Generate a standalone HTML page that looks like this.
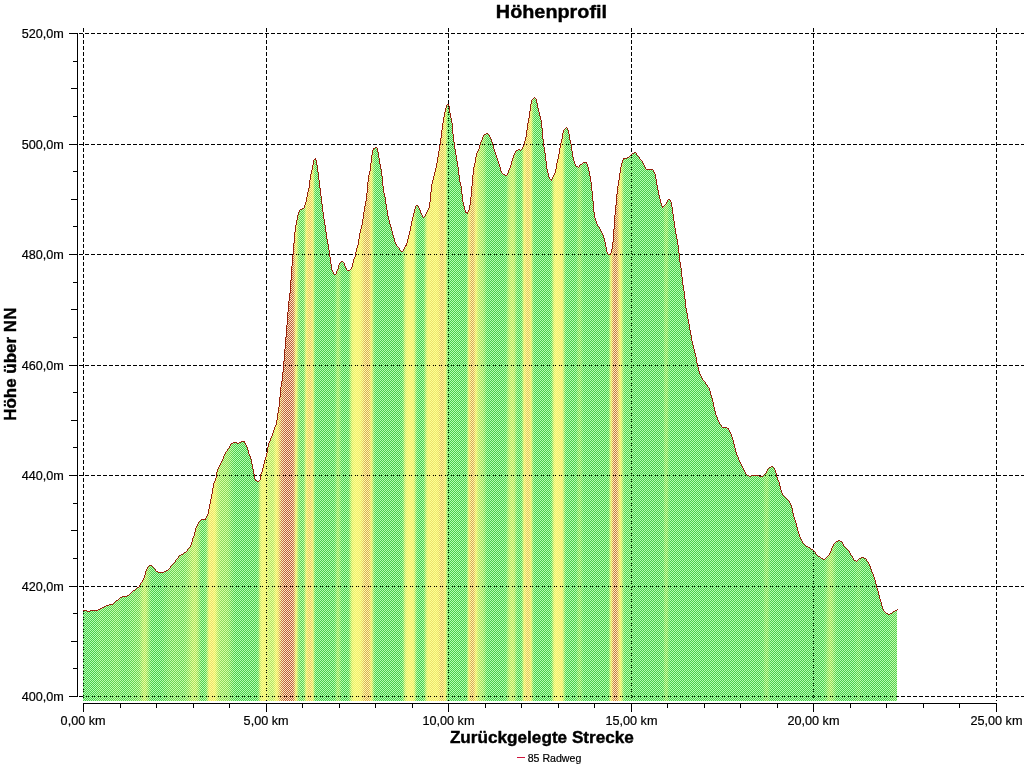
<!DOCTYPE html>
<html lang="de">
<head>
<meta charset="utf-8">
<title>Höhenprofil</title>
<style>
html,body{margin:0;padding:0;background:#fff;width:1024px;height:768px;overflow:hidden}
svg{display:block;position:absolute;left:0;top:0}
text{font-family:"Liberation Sans",sans-serif;fill:#000}
text{stroke:#000;stroke-width:0.2;stroke-linejoin:round}
.t{font-weight:bold;stroke-width:0.4}
</style>
</head>
<body>
<svg width="1024" height="768" viewBox="0 0 1024 768">
<defs>
<pattern id="ck" x="1" y="0" width="2" height="2" patternUnits="userSpaceOnUse"><rect x="0" y="0" width="1" height="1" fill="#fff"/><rect x="1" y="1" width="1" height="1" fill="#fff"/></pattern>
<mask id="ckm" maskUnits="userSpaceOnUse" x="0" y="0" width="1024" height="768"><rect x="0" y="0" width="1024" height="768" fill="url(#ck)"/></mask>
<clipPath id="area"><path d="M83 610H87V611H90V610H98V609H100V608H102V607H104V606H106V605H109V604H113V603H114V602H115V601H116V600H118V599H119V598H120V597H122V596H127V595H129V594H130V593H131V592H132V591H133V590H135V589H136V588H137V587H139V585H140V583H141V582H142V580H143V578H144V575H145V571H146V569H147V567H148V566H149V565H152V566H153V567H154V568H155V569H156V571H158V572H164V571H166V570H168V569H169V568H170V566H171V565H172V564H173V563H174V562H175V560H176V559H177V558H178V556H179V555H181V554H183V553H184V552H186V551H187V549H188V548H189V547H190V545H191V542H192V538H193V536H194V532H195V528H196V526H197V524H198V522H199V521H200V520H201V519H205V518H206V516H207V514H208V509H209V504H210V499H211V494H212V488H213V483H214V481H215V478H216V472H217V469H218V467H219V465H220V463H221V461H222V459H223V456H224V454H225V452H226V451H227V449H228V448H229V446H230V444H231V443H233V442H237V443H239V442H241V441H245V443H246V445H247V447H248V450H249V454H250V456H251V459H252V464H253V469H254V474H255V479H256V480H257V481H259V480H260V474H261V472H262V468H263V464H264V460H265V457H266V453H267V447H268V443H269V441H270V438H271V436H272V433H273V430H274V427H275V425H276V420H277V413H278V407H279V397H280V387H281V381H282V372H283V361H284V349H285V337H286V325H287V312H288V301H289V293H290V280H291V266H292V255H293V243H294V232H295V225H296V220H297V215H298V212H299V210H300V209H302V208H304V205H305V202H306V197H307V192H308V188H309V180H310V174H311V170H312V165H313V160H314V159H315V158H316V160H317V165H318V172H319V180H320V188H321V196H322V204H323V212H324V219H325V225H326V232H327V239H328V244H329V250H330V257H331V264H332V270H333V272H334V274H336V271H337V269H338V265H339V263H340V262H341V261H343V262H344V263H345V266H346V268H347V270H350V269H351V267H352V263H353V259H354V257H355V252H356V248H357V245H358V239H359V233H360V229H361V225H362V219H363V212H364V206H365V201H366V193H367V182H368V175H369V171H370V163H371V155H372V150H373V148H375V147H377V148H378V152H379V158H380V164H381V169H382V176H383V186H384V193H385V197H386V204H387V210H388V216H389V220H390V224H391V227H392V231H393V235H394V238H395V242H396V244H397V246H398V247H399V248H400V250H401V251H403V249H404V247H405V245H406V243H407V239H408V235H409V231H410V226H411V221H412V217H413V213H414V209H415V206H416V205H418V206H419V208H420V210H421V213H422V215H423V217H424V216H425V214H426V212H427V210H428V208H429V202H430V192H431V184H432V180H433V176H434V172H435V168H436V163H437V157H438V151H439V145H440V138H441V130H442V123H443V117H444V112H445V108H446V105H447V104H449V106H450V113H451V118H452V123H453V134H454V142H455V149H456V155H457V161H458V167H459V175H460V182H461V186H462V194H463V202H464V206H465V210H466V212H468V210H469V205H470V197H471V186H472V175H473V167H474V163H475V157H476V153H477V151H478V149H479V145H480V142H481V140H482V137H483V135H484V134H486V133H488V134H489V135H490V137H491V139H492V142H493V145H494V149H495V152H496V155H497V158H498V161H499V164H500V167H501V171H502V173H503V174H505V175H507V173H508V170H509V168H510V165H511V161H512V158H513V155H514V153H515V151H516V150H518V149H520V150H521V149H522V147H523V145H524V141H525V137H526V130H527V123H528V118H529V111H530V104H531V100H532V99H533V98H534V97H535V98H536V99H537V103H538V108H539V112H540V116H541V120H542V128H543V139H544V147H545V153H546V161H547V169H548V173H549V177H550V179H552V177H553V175H554V173H555V169H556V163H557V159H558V154H559V148H560V143H561V139H562V133H563V130H564V129H565V128H566V127H567V128H568V130H569V134H570V140H571V144H572V151H573V157H574V161H575V164H576V166H578V167H579V165H580V164H582V163H583V162H587V164H588V167H589V171H590V176H591V182H592V191H593V201H594V212H595V218H596V221H597V224H598V226H599V227H600V229H601V231H602V233H603V235H604V238H605V242H606V247H607V252H608V254H610V253H611V249H612V242H613V229H614V215H615V205H616V194H617V186H618V180H619V173H620V167H621V163H622V160H623V158H627V157H629V156H630V155H631V154H632V153H634V152H636V153H637V155H638V156H639V157H640V159H641V160H642V161H643V163H644V165H645V167H646V169H653V170H654V172H655V174H656V179H657V185H658V190H659V195H660V199H661V203H662V206H664V205H665V204H666V202H667V200H668V199H670V200H671V202H672V207H673V214H674V221H675V228H676V234H677V239H678V245H679V253H680V262H681V268H682V277H683V285H684V291H685V299H686V308H687V313H688V319H689V324H690V330H691V335H692V341H693V345H694V349H695V353H696V357H697V363H698V367H699V371H700V374H701V376H702V378H703V380H704V381H705V382H706V384H707V385H708V387H709V388H710V391H711V395H712V398H713V402H714V407H715V411H716V415H717V417H718V420H719V422H720V424H721V425H722V427H727V428H729V430H730V432H731V434H732V437H733V440H734V444H735V448H736V452H737V455H738V457H739V460H740V462H741V464H742V466H743V468H744V470H745V472H746V474H747V475H749V476H751V475H759V476H763V475H764V474H765V473H766V471H767V469H768V468H769V467H771V466H773V467H774V468H775V470H776V473H777V477H778V480H779V482H780V486H781V490H782V493H783V495H784V496H785V497H786V498H787V499H788V500H789V501H790V503H791V505H792V508H793V513H794V517H795V520H796V523H797V527H798V531H799V534H800V537H801V539H802V541H803V543H804V544H805V545H806V546H808V547H810V548H811V549H813V550H814V551H815V552H816V554H817V555H818V556H820V557H821V558H823V559H825V558H826V557H827V556H828V555H829V553H830V551H831V548H832V546H833V544H834V543H835V542H836V541H838V540H840V541H842V542H843V544H844V546H845V547H846V548H847V549H848V550H849V551H850V553H851V555H852V556H853V558H854V560H856V561H857V560H858V559H859V558H861V557H864V558H866V559H867V561H868V562H869V564H870V566H871V569H872V572H873V574H874V577H875V580H876V584H877V588H878V591H879V595H880V599H881V602H882V606H883V609H884V611H885V612H886V613H888V614H890V613H892V612H893V611H895V610H897V701 H83 Z"/></clipPath>
<linearGradient id="gl" gradientUnits="userSpaceOnUse" x1="83" y1="0" x2="897" y2="0"><stop offset="0.00000" stop-color="#b4ffb4"/><stop offset="0.01474" stop-color="#b5ffb4"/><stop offset="0.02211" stop-color="#beffb0"/><stop offset="0.02948" stop-color="#bbffb1"/><stop offset="0.04054" stop-color="#c3ffae"/><stop offset="0.04300" stop-color="#c2ffae"/><stop offset="0.04791" stop-color="#baffb1"/><stop offset="0.05160" stop-color="#b9ffb2"/><stop offset="0.05528" stop-color="#bcffb1"/><stop offset="0.06757" stop-color="#c7ffac"/><stop offset="0.06880" stop-color="#c9ffab"/><stop offset="0.07002" stop-color="#cfffa9"/><stop offset="0.07248" stop-color="#deffa2"/><stop offset="0.07371" stop-color="#e4ffa0"/><stop offset="0.07494" stop-color="#e9ff9e"/><stop offset="0.07617" stop-color="#e9ff9e"/><stop offset="0.07740" stop-color="#e4ffa0"/><stop offset="0.07862" stop-color="#dcffa3"/><stop offset="0.08231" stop-color="#c0ffaf"/><stop offset="0.08354" stop-color="#b9ffb2"/><stop offset="0.08477" stop-color="#b5ffb4"/><stop offset="0.09459" stop-color="#b4ffb4"/><stop offset="0.09705" stop-color="#b6ffb3"/><stop offset="0.10934" stop-color="#c7ffac"/><stop offset="0.11425" stop-color="#c8ffab"/><stop offset="0.12039" stop-color="#c5ffad"/><stop offset="0.12408" stop-color="#c6ffac"/><stop offset="0.12531" stop-color="#c8ffac"/><stop offset="0.13022" stop-color="#d7ffa5"/><stop offset="0.13391" stop-color="#e4ffa0"/><stop offset="0.13514" stop-color="#e7ff9e"/><stop offset="0.13636" stop-color="#e9ff9e"/><stop offset="0.13759" stop-color="#e9ff9e"/><stop offset="0.13882" stop-color="#e6ff9f"/><stop offset="0.14005" stop-color="#e0ffa2"/><stop offset="0.14128" stop-color="#d8ffa5"/><stop offset="0.14373" stop-color="#c3ffae"/><stop offset="0.14496" stop-color="#bcffb1"/><stop offset="0.14619" stop-color="#b9ffb2"/><stop offset="0.14742" stop-color="#b8ffb3"/><stop offset="0.14865" stop-color="#b9ffb2"/><stop offset="0.14988" stop-color="#bcffb1"/><stop offset="0.15111" stop-color="#c3ffae"/><stop offset="0.15233" stop-color="#d4ffa7"/><stop offset="0.15356" stop-color="#ecff9c"/><stop offset="0.15479" stop-color="#ffff92"/><stop offset="0.15602" stop-color="#ffff91"/><stop offset="0.15725" stop-color="#ffff95"/><stop offset="0.15848" stop-color="#ffff95"/><stop offset="0.15971" stop-color="#ffff94"/><stop offset="0.16093" stop-color="#ffff90"/><stop offset="0.16216" stop-color="#ffff91"/><stop offset="0.16339" stop-color="#faff96"/><stop offset="0.16462" stop-color="#f0ff9b"/><stop offset="0.16585" stop-color="#e8ff9e"/><stop offset="0.16708" stop-color="#e1ffa1"/><stop offset="0.16830" stop-color="#dcffa3"/><stop offset="0.16953" stop-color="#d9ffa4"/><stop offset="0.17690" stop-color="#d4ffa6"/><stop offset="0.17813" stop-color="#d2ffa7"/><stop offset="0.18305" stop-color="#c0ffaf"/><stop offset="0.18673" stop-color="#b7ffb3"/><stop offset="0.18796" stop-color="#b5ffb4"/><stop offset="0.19410" stop-color="#b5ffb4"/><stop offset="0.21253" stop-color="#b4ffb4"/><stop offset="0.21376" stop-color="#b5ffb4"/><stop offset="0.21499" stop-color="#bdffb0"/><stop offset="0.21622" stop-color="#d2ffa7"/><stop offset="0.21744" stop-color="#eeff9c"/><stop offset="0.21867" stop-color="#ffff94"/><stop offset="0.21990" stop-color="#ffff91"/><stop offset="0.22236" stop-color="#ffff8f"/><stop offset="0.22359" stop-color="#ffff8f"/><stop offset="0.22482" stop-color="#ffff91"/><stop offset="0.22604" stop-color="#ffff94"/><stop offset="0.22850" stop-color="#f1ff9a"/><stop offset="0.22973" stop-color="#edff9c"/><stop offset="0.23096" stop-color="#ecff9d"/><stop offset="0.23219" stop-color="#ebff9d"/><stop offset="0.23342" stop-color="#edff9c"/><stop offset="0.23464" stop-color="#f3ff9a"/><stop offset="0.23587" stop-color="#fcff96"/><stop offset="0.23710" stop-color="#ffff91"/><stop offset="0.23833" stop-color="#ffff92"/><stop offset="0.23956" stop-color="#ffff9a"/><stop offset="0.24079" stop-color="#fffea3"/><stop offset="0.24201" stop-color="#fff7ad"/><stop offset="0.24324" stop-color="#fff2b6"/><stop offset="0.24447" stop-color="#ffeeba"/><stop offset="0.24816" stop-color="#ffe8c4"/><stop offset="0.25061" stop-color="#ffe7c5"/><stop offset="0.25676" stop-color="#ffe8c4"/><stop offset="0.25799" stop-color="#ffe9c1"/><stop offset="0.25921" stop-color="#ffefb9"/><stop offset="0.26044" stop-color="#fffda6"/><stop offset="0.26167" stop-color="#ffff90"/><stop offset="0.26290" stop-color="#f2ff9a"/><stop offset="0.26413" stop-color="#d9ffa5"/><stop offset="0.26536" stop-color="#c9ffab"/><stop offset="0.26658" stop-color="#c2ffae"/><stop offset="0.26781" stop-color="#beffb0"/><stop offset="0.26904" stop-color="#bdffb0"/><stop offset="0.27027" stop-color="#bfffaf"/><stop offset="0.27150" stop-color="#c8ffac"/><stop offset="0.27273" stop-color="#dfffa2"/><stop offset="0.27396" stop-color="#ffff94"/><stop offset="0.27518" stop-color="#ffff97"/><stop offset="0.27641" stop-color="#ffff9d"/><stop offset="0.27764" stop-color="#ffff9f"/><stop offset="0.27887" stop-color="#ffffa0"/><stop offset="0.28010" stop-color="#ffff9e"/><stop offset="0.28133" stop-color="#ffff98"/><stop offset="0.28256" stop-color="#ffff94"/><stop offset="0.28378" stop-color="#dbffa3"/><stop offset="0.28501" stop-color="#bfffb0"/><stop offset="0.28624" stop-color="#b5ffb4"/><stop offset="0.30835" stop-color="#b5ffb4"/><stop offset="0.30958" stop-color="#baffb2"/><stop offset="0.31081" stop-color="#c7ffac"/><stop offset="0.31204" stop-color="#d3ffa7"/><stop offset="0.31327" stop-color="#d7ffa5"/><stop offset="0.31450" stop-color="#d3ffa7"/><stop offset="0.31695" stop-color="#bcffb1"/><stop offset="0.31818" stop-color="#b6ffb3"/><stop offset="0.31941" stop-color="#b4ffb4"/><stop offset="0.32432" stop-color="#b4ffb4"/><stop offset="0.32555" stop-color="#b5ffb4"/><stop offset="0.32678" stop-color="#beffb0"/><stop offset="0.32801" stop-color="#d3ffa7"/><stop offset="0.32924" stop-color="#ebff9d"/><stop offset="0.33047" stop-color="#fcff96"/><stop offset="0.33170" stop-color="#ffff92"/><stop offset="0.33538" stop-color="#ffff8e"/><stop offset="0.34029" stop-color="#ffff91"/><stop offset="0.34152" stop-color="#ffff93"/><stop offset="0.34275" stop-color="#ffff97"/><stop offset="0.34521" stop-color="#ffffa3"/><stop offset="0.34644" stop-color="#fffca7"/><stop offset="0.34889" stop-color="#fffaa9"/><stop offset="0.35012" stop-color="#fffba9"/><stop offset="0.35135" stop-color="#fffca7"/><stop offset="0.35258" stop-color="#ffffa0"/><stop offset="0.35381" stop-color="#ffff93"/><stop offset="0.35504" stop-color="#f8ff97"/><stop offset="0.35627" stop-color="#dcffa3"/><stop offset="0.35749" stop-color="#c6ffac"/><stop offset="0.35872" stop-color="#bbffb1"/><stop offset="0.35995" stop-color="#b5ffb4"/><stop offset="0.39066" stop-color="#b5ffb4"/><stop offset="0.39189" stop-color="#b7ffb3"/><stop offset="0.39312" stop-color="#c1ffaf"/><stop offset="0.39558" stop-color="#efff9b"/><stop offset="0.39681" stop-color="#feff95"/><stop offset="0.39803" stop-color="#ffff92"/><stop offset="0.40049" stop-color="#ffff8f"/><stop offset="0.40418" stop-color="#ffff90"/><stop offset="0.40541" stop-color="#ffff8f"/><stop offset="0.40663" stop-color="#feff95"/><stop offset="0.40786" stop-color="#e7ff9e"/><stop offset="0.40909" stop-color="#ceffa9"/><stop offset="0.41032" stop-color="#bcffb1"/><stop offset="0.41155" stop-color="#b6ffb4"/><stop offset="0.41646" stop-color="#b4ffb4"/><stop offset="0.41769" stop-color="#b5ffb4"/><stop offset="0.41892" stop-color="#bdffb0"/><stop offset="0.42015" stop-color="#d3ffa7"/><stop offset="0.42138" stop-color="#ebff9d"/><stop offset="0.42260" stop-color="#feff95"/><stop offset="0.42383" stop-color="#ffff90"/><stop offset="0.42506" stop-color="#ffff8f"/><stop offset="0.42629" stop-color="#ffff92"/><stop offset="0.42752" stop-color="#ffff94"/><stop offset="0.42998" stop-color="#ffff94"/><stop offset="0.43243" stop-color="#ffff91"/><stop offset="0.43366" stop-color="#ffff91"/><stop offset="0.43612" stop-color="#ffff94"/><stop offset="0.43735" stop-color="#ffff98"/><stop offset="0.43980" stop-color="#ffffa0"/><stop offset="0.44103" stop-color="#ffffa1"/><stop offset="0.44226" stop-color="#ffffa0"/><stop offset="0.44349" stop-color="#ffff9c"/><stop offset="0.44472" stop-color="#ffff92"/><stop offset="0.44595" stop-color="#f5ff98"/><stop offset="0.44717" stop-color="#d1ffa8"/><stop offset="0.44840" stop-color="#bbffb1"/><stop offset="0.44963" stop-color="#b5ffb4"/><stop offset="0.46929" stop-color="#b4ffb4"/><stop offset="0.47052" stop-color="#b6ffb3"/><stop offset="0.47174" stop-color="#c4ffad"/><stop offset="0.47297" stop-color="#ecff9c"/><stop offset="0.47420" stop-color="#ffff92"/><stop offset="0.47543" stop-color="#ffffa1"/><stop offset="0.47666" stop-color="#fffca8"/><stop offset="0.47789" stop-color="#fffaaa"/><stop offset="0.47912" stop-color="#fffaaa"/><stop offset="0.48034" stop-color="#fffda6"/><stop offset="0.48157" stop-color="#ffff9b"/><stop offset="0.48280" stop-color="#ffff8f"/><stop offset="0.48403" stop-color="#f9ff97"/><stop offset="0.48526" stop-color="#eeff9c"/><stop offset="0.48649" stop-color="#e7ff9e"/><stop offset="0.49017" stop-color="#ddffa3"/><stop offset="0.49140" stop-color="#d9ffa5"/><stop offset="0.49263" stop-color="#d1ffa8"/><stop offset="0.49509" stop-color="#beffb0"/><stop offset="0.49631" stop-color="#b7ffb3"/><stop offset="0.49754" stop-color="#b4ffb4"/><stop offset="0.51720" stop-color="#b4ffb4"/><stop offset="0.51843" stop-color="#b5ffb4"/><stop offset="0.51966" stop-color="#baffb2"/><stop offset="0.52088" stop-color="#c6ffac"/><stop offset="0.52211" stop-color="#d6ffa6"/><stop offset="0.52334" stop-color="#e1ffa1"/><stop offset="0.52457" stop-color="#e7ff9f"/><stop offset="0.52580" stop-color="#eaff9d"/><stop offset="0.52703" stop-color="#ecff9c"/><stop offset="0.52826" stop-color="#ebff9d"/><stop offset="0.52948" stop-color="#e6ff9f"/><stop offset="0.53071" stop-color="#daffa4"/><stop offset="0.53194" stop-color="#cbffab"/><stop offset="0.53317" stop-color="#beffb0"/><stop offset="0.53440" stop-color="#b9ffb2"/><stop offset="0.53563" stop-color="#b7ffb3"/><stop offset="0.53686" stop-color="#b8ffb3"/><stop offset="0.53808" stop-color="#bbffb1"/><stop offset="0.53931" stop-color="#c8ffac"/><stop offset="0.54054" stop-color="#e5ff9f"/><stop offset="0.54177" stop-color="#ffff92"/><stop offset="0.54300" stop-color="#ffff96"/><stop offset="0.54423" stop-color="#ffff9d"/><stop offset="0.54545" stop-color="#ffff9f"/><stop offset="0.54668" stop-color="#ffffa0"/><stop offset="0.54791" stop-color="#ffffa0"/><stop offset="0.54914" stop-color="#ffff9a"/><stop offset="0.55037" stop-color="#ffff91"/><stop offset="0.55160" stop-color="#e6ff9f"/><stop offset="0.55283" stop-color="#c9ffab"/><stop offset="0.55405" stop-color="#bbffb1"/><stop offset="0.55528" stop-color="#b5ffb4"/><stop offset="0.57371" stop-color="#b5ffb4"/><stop offset="0.57494" stop-color="#baffb2"/><stop offset="0.57617" stop-color="#ccffaa"/><stop offset="0.57740" stop-color="#e7ff9f"/><stop offset="0.57862" stop-color="#fbff96"/><stop offset="0.57985" stop-color="#ffff91"/><stop offset="0.58108" stop-color="#ffff8e"/><stop offset="0.58354" stop-color="#ffff91"/><stop offset="0.58600" stop-color="#ffff91"/><stop offset="0.58845" stop-color="#ffff8f"/><stop offset="0.58968" stop-color="#f7ff98"/><stop offset="0.59091" stop-color="#ddffa3"/><stop offset="0.59214" stop-color="#c5ffad"/><stop offset="0.59337" stop-color="#b8ffb3"/><stop offset="0.59459" stop-color="#b5ffb4"/><stop offset="0.60442" stop-color="#b4ffb4"/><stop offset="0.60565" stop-color="#b6ffb3"/><stop offset="0.60688" stop-color="#bdffb0"/><stop offset="0.60811" stop-color="#c7ffac"/><stop offset="0.60934" stop-color="#ccffaa"/><stop offset="0.61057" stop-color="#ceffa9"/><stop offset="0.61179" stop-color="#cbffaa"/><stop offset="0.61425" stop-color="#b9ffb2"/><stop offset="0.61548" stop-color="#b5ffb4"/><stop offset="0.64373" stop-color="#b4ffb4"/><stop offset="0.64496" stop-color="#b5ffb4"/><stop offset="0.64619" stop-color="#c1ffaf"/><stop offset="0.64742" stop-color="#e3ffa0"/><stop offset="0.64865" stop-color="#ffff8e"/><stop offset="0.64988" stop-color="#fffea4"/><stop offset="0.65111" stop-color="#fff4b2"/><stop offset="0.65233" stop-color="#ffefb9"/><stop offset="0.65356" stop-color="#ffedbc"/><stop offset="0.65479" stop-color="#ffedbc"/><stop offset="0.65602" stop-color="#fff1b7"/><stop offset="0.65725" stop-color="#fff9ab"/><stop offset="0.65848" stop-color="#ffff9d"/><stop offset="0.65971" stop-color="#ffff93"/><stop offset="0.66093" stop-color="#ffff93"/><stop offset="0.66216" stop-color="#ebff9d"/><stop offset="0.66339" stop-color="#d2ffa7"/><stop offset="0.66462" stop-color="#c1ffaf"/><stop offset="0.66585" stop-color="#baffb2"/><stop offset="0.66708" stop-color="#b8ffb2"/><stop offset="0.67322" stop-color="#b9ffb2"/><stop offset="0.67813" stop-color="#b4ffb4"/><stop offset="0.71130" stop-color="#b4ffb4"/><stop offset="0.71253" stop-color="#b7ffb3"/><stop offset="0.71376" stop-color="#bfffaf"/><stop offset="0.71499" stop-color="#cbffaa"/><stop offset="0.71622" stop-color="#d0ffa8"/><stop offset="0.71744" stop-color="#ceffa9"/><stop offset="0.71867" stop-color="#c4ffad"/><stop offset="0.71990" stop-color="#b9ffb2"/><stop offset="0.72113" stop-color="#b5ffb4"/><stop offset="0.83170" stop-color="#b5ffb4"/><stop offset="0.83415" stop-color="#b7ffb3"/><stop offset="0.83538" stop-color="#baffb2"/><stop offset="0.83661" stop-color="#bfffaf"/><stop offset="0.83784" stop-color="#c6ffac"/><stop offset="0.83907" stop-color="#ccffaa"/><stop offset="0.84029" stop-color="#ccffaa"/><stop offset="0.84152" stop-color="#c7ffac"/><stop offset="0.84275" stop-color="#c0ffaf"/><stop offset="0.84398" stop-color="#b9ffb2"/><stop offset="0.84521" stop-color="#b6ffb3"/><stop offset="0.90786" stop-color="#b4ffb4"/><stop offset="0.90909" stop-color="#b5ffb4"/><stop offset="0.91032" stop-color="#b7ffb3"/><stop offset="0.91155" stop-color="#bcffb1"/><stop offset="0.91646" stop-color="#d7ffa5"/><stop offset="0.91769" stop-color="#dcffa3"/><stop offset="0.91892" stop-color="#dbffa4"/><stop offset="0.92015" stop-color="#d6ffa6"/><stop offset="0.92138" stop-color="#d0ffa8"/><stop offset="0.92383" stop-color="#c1ffaf"/><stop offset="0.92506" stop-color="#bbffb1"/><stop offset="0.92629" stop-color="#b8ffb3"/><stop offset="0.92875" stop-color="#b4ffb4"/><stop offset="0.94717" stop-color="#b5ffb4"/><stop offset="0.95086" stop-color="#bcffb1"/><stop offset="0.95332" stop-color="#beffb0"/><stop offset="0.95455" stop-color="#bdffb0"/><stop offset="0.95700" stop-color="#b6ffb4"/><stop offset="0.98894" stop-color="#b4ffb4"/><stop offset="0.99017" stop-color="#b5ffb4"/><stop offset="0.99263" stop-color="#bbffb1"/><stop offset="0.99631" stop-color="#bdffb0"/><stop offset="1.00000" stop-color="#bcffb1"/></linearGradient>
<linearGradient id="gd" gradientUnits="userSpaceOnUse" x1="83" y1="0" x2="897" y2="0"><stop offset="0.00000" stop-color="#4bca4b"/><stop offset="0.01474" stop-color="#4ccb4b"/><stop offset="0.01597" stop-color="#4dcb4b"/><stop offset="0.02088" stop-color="#5bce4f"/><stop offset="0.02211" stop-color="#5dce4f"/><stop offset="0.02826" stop-color="#58cd4e"/><stop offset="0.03194" stop-color="#5ace4e"/><stop offset="0.03931" stop-color="#65d051"/><stop offset="0.04177" stop-color="#66d151"/><stop offset="0.04300" stop-color="#65d051"/><stop offset="0.04791" stop-color="#57cd4e"/><stop offset="0.05037" stop-color="#54cc4d"/><stop offset="0.05283" stop-color="#55cd4d"/><stop offset="0.05528" stop-color="#58cd4e"/><stop offset="0.05897" stop-color="#61d050"/><stop offset="0.06757" stop-color="#6ed253"/><stop offset="0.06880" stop-color="#72d354"/><stop offset="0.07002" stop-color="#7dd656"/><stop offset="0.07248" stop-color="#99dc5d"/><stop offset="0.07371" stop-color="#a4df5f"/><stop offset="0.07494" stop-color="#ace161"/><stop offset="0.07617" stop-color="#ace161"/><stop offset="0.07740" stop-color="#a3df5f"/><stop offset="0.07862" stop-color="#95db5c"/><stop offset="0.08108" stop-color="#71d354"/><stop offset="0.08231" stop-color="#60cf50"/><stop offset="0.08354" stop-color="#54cc4d"/><stop offset="0.08477" stop-color="#4dcb4b"/><stop offset="0.08600" stop-color="#4bca4b"/><stop offset="0.09459" stop-color="#4bca4b"/><stop offset="0.09582" stop-color="#4ccb4b"/><stop offset="0.10197" stop-color="#5dce4f"/><stop offset="0.10934" stop-color="#6ed253"/><stop offset="0.11302" stop-color="#71d354"/><stop offset="0.11548" stop-color="#6fd353"/><stop offset="0.11916" stop-color="#6ad252"/><stop offset="0.12162" stop-color="#69d152"/><stop offset="0.12408" stop-color="#6cd253"/><stop offset="0.12531" stop-color="#70d353"/><stop offset="0.12654" stop-color="#75d455"/><stop offset="0.13022" stop-color="#8bd95a"/><stop offset="0.13391" stop-color="#a4df5f"/><stop offset="0.13514" stop-color="#a9e061"/><stop offset="0.13636" stop-color="#ace161"/><stop offset="0.13759" stop-color="#ace161"/><stop offset="0.13882" stop-color="#a7e060"/><stop offset="0.14005" stop-color="#9cdd5d"/><stop offset="0.14128" stop-color="#8dd95a"/><stop offset="0.14251" stop-color="#7bd556"/><stop offset="0.14373" stop-color="#67d151"/><stop offset="0.14496" stop-color="#59ce4e"/><stop offset="0.14619" stop-color="#53cc4d"/><stop offset="0.14742" stop-color="#52cc4c"/><stop offset="0.14865" stop-color="#53cc4d"/><stop offset="0.14988" stop-color="#59ce4e"/><stop offset="0.15111" stop-color="#67d151"/><stop offset="0.15233" stop-color="#85d858"/><stop offset="0.15479" stop-color="#deec6d"/><stop offset="0.15602" stop-color="#ede86e"/><stop offset="0.15725" stop-color="#eade6a"/><stop offset="0.15848" stop-color="#eade6a"/><stop offset="0.15971" stop-color="#ebe26b"/><stop offset="0.16093" stop-color="#efeb6f"/><stop offset="0.16216" stop-color="#e2ed6e"/><stop offset="0.16339" stop-color="#cce869"/><stop offset="0.16462" stop-color="#bae464"/><stop offset="0.16585" stop-color="#aae061"/><stop offset="0.16708" stop-color="#9edd5e"/><stop offset="0.16830" stop-color="#94db5c"/><stop offset="0.16953" stop-color="#8fda5b"/><stop offset="0.17568" stop-color="#89d959"/><stop offset="0.17690" stop-color="#86d859"/><stop offset="0.17813" stop-color="#82d758"/><stop offset="0.17936" stop-color="#7bd556"/><stop offset="0.18305" stop-color="#60cf50"/><stop offset="0.18550" stop-color="#54cd4d"/><stop offset="0.18673" stop-color="#50cb4c"/><stop offset="0.18796" stop-color="#4ccb4b"/><stop offset="0.18919" stop-color="#4ccb4b"/><stop offset="0.19287" stop-color="#4ecb4c"/><stop offset="0.19656" stop-color="#4bca4b"/><stop offset="0.21253" stop-color="#4bca4b"/><stop offset="0.21376" stop-color="#4dcb4b"/><stop offset="0.21499" stop-color="#5bce4f"/><stop offset="0.21622" stop-color="#82d758"/><stop offset="0.21744" stop-color="#b5e363"/><stop offset="0.21867" stop-color="#d5ea6b"/><stop offset="0.21990" stop-color="#e4ee6e"/><stop offset="0.22113" stop-color="#eaef6f"/><stop offset="0.22236" stop-color="#ecef70"/><stop offset="0.22359" stop-color="#ebef70"/><stop offset="0.22482" stop-color="#e4ee6e"/><stop offset="0.22727" stop-color="#c8e768"/><stop offset="0.22850" stop-color="#bce465"/><stop offset="0.22973" stop-color="#b5e363"/><stop offset="0.23096" stop-color="#b2e262"/><stop offset="0.23219" stop-color="#b1e262"/><stop offset="0.23342" stop-color="#b5e363"/><stop offset="0.23464" stop-color="#bfe565"/><stop offset="0.23587" stop-color="#d0e969"/><stop offset="0.23710" stop-color="#e5ee6e"/><stop offset="0.23833" stop-color="#ede66d"/><stop offset="0.23956" stop-color="#e5d065"/><stop offset="0.24201" stop-color="#d19c52"/><stop offset="0.24324" stop-color="#c98549"/><stop offset="0.24447" stop-color="#c47945"/><stop offset="0.24693" stop-color="#be673e"/><stop offset="0.24816" stop-color="#bb5f3b"/><stop offset="0.24939" stop-color="#b95c3a"/><stop offset="0.25061" stop-color="#b95b3a"/><stop offset="0.25553" stop-color="#ba5c3a"/><stop offset="0.25676" stop-color="#bb5f3b"/><stop offset="0.25799" stop-color="#bd663e"/><stop offset="0.25921" stop-color="#c57c46"/><stop offset="0.26044" stop-color="#d9b059"/><stop offset="0.26167" stop-color="#efec6f"/><stop offset="0.26290" stop-color="#bee565"/><stop offset="0.26413" stop-color="#8fda5a"/><stop offset="0.26536" stop-color="#72d354"/><stop offset="0.26658" stop-color="#64d051"/><stop offset="0.26781" stop-color="#5dcf4f"/><stop offset="0.26904" stop-color="#5cce4f"/><stop offset="0.27027" stop-color="#5fcf50"/><stop offset="0.27150" stop-color="#6fd353"/><stop offset="0.27273" stop-color="#9add5d"/><stop offset="0.27396" stop-color="#d8eb6b"/><stop offset="0.27518" stop-color="#e8d968"/><stop offset="0.27641" stop-color="#e1c762"/><stop offset="0.27764" stop-color="#dfc260"/><stop offset="0.27887" stop-color="#dfc15f"/><stop offset="0.28010" stop-color="#e0c561"/><stop offset="0.28133" stop-color="#e7d767"/><stop offset="0.28256" stop-color="#d9eb6b"/><stop offset="0.28378" stop-color="#93db5c"/><stop offset="0.28501" stop-color="#5fcf4f"/><stop offset="0.28624" stop-color="#4dcb4b"/><stop offset="0.28747" stop-color="#4bca4b"/><stop offset="0.30713" stop-color="#4bca4b"/><stop offset="0.30835" stop-color="#4ccb4b"/><stop offset="0.30958" stop-color="#55cd4d"/><stop offset="0.31081" stop-color="#6ed253"/><stop offset="0.31204" stop-color="#83d758"/><stop offset="0.31327" stop-color="#8bd95a"/><stop offset="0.31450" stop-color="#84d858"/><stop offset="0.31695" stop-color="#59ce4e"/><stop offset="0.31818" stop-color="#4ecb4c"/><stop offset="0.31941" stop-color="#4bca4b"/><stop offset="0.32432" stop-color="#4bca4b"/><stop offset="0.32555" stop-color="#4dcb4b"/><stop offset="0.32678" stop-color="#5dce4f"/><stop offset="0.32801" stop-color="#84d858"/><stop offset="0.32924" stop-color="#b0e262"/><stop offset="0.33047" stop-color="#d0e969"/><stop offset="0.33170" stop-color="#dfec6d"/><stop offset="0.33292" stop-color="#e6ee6f"/><stop offset="0.33415" stop-color="#ecef70"/><stop offset="0.33538" stop-color="#f0f071"/><stop offset="0.33784" stop-color="#efeb6f"/><stop offset="0.34029" stop-color="#eee96e"/><stop offset="0.34152" stop-color="#ece46c"/><stop offset="0.34275" stop-color="#e7d768"/><stop offset="0.34521" stop-color="#dcb85c"/><stop offset="0.34644" stop-color="#d8ae58"/><stop offset="0.34767" stop-color="#d6a956"/><stop offset="0.34889" stop-color="#d5a756"/><stop offset="0.35012" stop-color="#d6a856"/><stop offset="0.35135" stop-color="#d8ae58"/><stop offset="0.35258" stop-color="#dfc15f"/><stop offset="0.35381" stop-color="#ece46c"/><stop offset="0.35504" stop-color="#c9e768"/><stop offset="0.35627" stop-color="#94db5c"/><stop offset="0.35749" stop-color="#6cd253"/><stop offset="0.35872" stop-color="#57cd4e"/><stop offset="0.35995" stop-color="#4dcb4b"/><stop offset="0.36118" stop-color="#4bca4b"/><stop offset="0.38943" stop-color="#4bca4b"/><stop offset="0.39066" stop-color="#4ccb4b"/><stop offset="0.39189" stop-color="#50cc4c"/><stop offset="0.39312" stop-color="#63d050"/><stop offset="0.39558" stop-color="#b8e464"/><stop offset="0.39681" stop-color="#d3ea6a"/><stop offset="0.39803" stop-color="#e0ed6d"/><stop offset="0.40049" stop-color="#eef070"/><stop offset="0.40172" stop-color="#f0ee70"/><stop offset="0.40295" stop-color="#efeb6f"/><stop offset="0.40418" stop-color="#efec6f"/><stop offset="0.40541" stop-color="#edf070"/><stop offset="0.40663" stop-color="#d4ea6a"/><stop offset="0.40786" stop-color="#aae061"/><stop offset="0.40909" stop-color="#7bd556"/><stop offset="0.41032" stop-color="#5ace4e"/><stop offset="0.41155" stop-color="#4dcb4b"/><stop offset="0.41278" stop-color="#4bca4b"/><stop offset="0.41646" stop-color="#4bca4b"/><stop offset="0.41769" stop-color="#4ccb4b"/><stop offset="0.41892" stop-color="#5bce4f"/><stop offset="0.42015" stop-color="#83d758"/><stop offset="0.42138" stop-color="#b1e262"/><stop offset="0.42260" stop-color="#d3ea6a"/><stop offset="0.42383" stop-color="#e7ee6f"/><stop offset="0.42506" stop-color="#efee70"/><stop offset="0.42629" stop-color="#ece56d"/><stop offset="0.42752" stop-color="#eae06b"/><stop offset="0.42875" stop-color="#eadf6b"/><stop offset="0.42998" stop-color="#ebe26b"/><stop offset="0.43243" stop-color="#ede86e"/><stop offset="0.43366" stop-color="#ede86e"/><stop offset="0.43489" stop-color="#ece56d"/><stop offset="0.43612" stop-color="#eadf6b"/><stop offset="0.43735" stop-color="#e7d667"/><stop offset="0.43857" stop-color="#e2c962"/><stop offset="0.43980" stop-color="#debf5f"/><stop offset="0.44103" stop-color="#ddbd5e"/><stop offset="0.44226" stop-color="#dfc15f"/><stop offset="0.44349" stop-color="#e3cb63"/><stop offset="0.44472" stop-color="#ece56d"/><stop offset="0.44595" stop-color="#c3e667"/><stop offset="0.44717" stop-color="#81d757"/><stop offset="0.44840" stop-color="#57cd4e"/><stop offset="0.44963" stop-color="#4ccb4b"/><stop offset="0.46929" stop-color="#4bca4b"/><stop offset="0.47052" stop-color="#4ecb4c"/><stop offset="0.47174" stop-color="#69d152"/><stop offset="0.47297" stop-color="#b2e263"/><stop offset="0.47420" stop-color="#ece56d"/><stop offset="0.47543" stop-color="#ddbd5e"/><stop offset="0.47666" stop-color="#d7ac57"/><stop offset="0.47789" stop-color="#d4a555"/><stop offset="0.47912" stop-color="#d4a455"/><stop offset="0.48034" stop-color="#d9b059"/><stop offset="0.48157" stop-color="#e4ce64"/><stop offset="0.48280" stop-color="#eef070"/><stop offset="0.48403" stop-color="#cbe868"/><stop offset="0.48526" stop-color="#b5e363"/><stop offset="0.48649" stop-color="#a9e061"/><stop offset="0.48771" stop-color="#a2de5f"/><stop offset="0.49017" stop-color="#97dc5c"/><stop offset="0.49140" stop-color="#8eda5a"/><stop offset="0.49263" stop-color="#80d757"/><stop offset="0.49509" stop-color="#5dce4f"/><stop offset="0.49631" stop-color="#4fcb4c"/><stop offset="0.49754" stop-color="#4bca4b"/><stop offset="0.51720" stop-color="#4bca4b"/><stop offset="0.51843" stop-color="#4dcb4b"/><stop offset="0.51966" stop-color="#56cd4d"/><stop offset="0.52088" stop-color="#6cd253"/><stop offset="0.52211" stop-color="#8ad959"/><stop offset="0.52334" stop-color="#9ddd5e"/><stop offset="0.52457" stop-color="#a9e060"/><stop offset="0.52580" stop-color="#afe162"/><stop offset="0.52703" stop-color="#b2e263"/><stop offset="0.52826" stop-color="#b1e262"/><stop offset="0.52948" stop-color="#a8e060"/><stop offset="0.53071" stop-color="#91da5b"/><stop offset="0.53194" stop-color="#74d454"/><stop offset="0.53317" stop-color="#5ecf4f"/><stop offset="0.53440" stop-color="#53cc4d"/><stop offset="0.53563" stop-color="#51cc4c"/><stop offset="0.53686" stop-color="#52cc4c"/><stop offset="0.53808" stop-color="#58cd4e"/><stop offset="0.53931" stop-color="#6fd353"/><stop offset="0.54054" stop-color="#a6df60"/><stop offset="0.54177" stop-color="#e0ed6d"/><stop offset="0.54300" stop-color="#e8db69"/><stop offset="0.54423" stop-color="#e2c962"/><stop offset="0.54545" stop-color="#dfc260"/><stop offset="0.54668" stop-color="#debf5f"/><stop offset="0.54791" stop-color="#dfc05f"/><stop offset="0.54914" stop-color="#e4d065"/><stop offset="0.55037" stop-color="#e5ee6e"/><stop offset="0.55160" stop-color="#a7e060"/><stop offset="0.55283" stop-color="#72d354"/><stop offset="0.55405" stop-color="#57cd4e"/><stop offset="0.55528" stop-color="#4dcb4b"/><stop offset="0.55651" stop-color="#4bca4b"/><stop offset="0.57248" stop-color="#4bca4b"/><stop offset="0.57371" stop-color="#4ccb4b"/><stop offset="0.57494" stop-color="#55cd4d"/><stop offset="0.57617" stop-color="#77d455"/><stop offset="0.57740" stop-color="#a8e060"/><stop offset="0.57862" stop-color="#cfe969"/><stop offset="0.57985" stop-color="#e5ee6e"/><stop offset="0.58108" stop-color="#f0f071"/><stop offset="0.58231" stop-color="#eeeb6f"/><stop offset="0.58354" stop-color="#ede86e"/><stop offset="0.58477" stop-color="#ede76d"/><stop offset="0.58600" stop-color="#ede76e"/><stop offset="0.58722" stop-color="#eee96e"/><stop offset="0.58845" stop-color="#ebef70"/><stop offset="0.58968" stop-color="#c7e767"/><stop offset="0.59091" stop-color="#96dc5c"/><stop offset="0.59214" stop-color="#69d152"/><stop offset="0.59337" stop-color="#52cc4c"/><stop offset="0.59459" stop-color="#4ccb4b"/><stop offset="0.60442" stop-color="#4bca4b"/><stop offset="0.60565" stop-color="#4fcb4c"/><stop offset="0.60688" stop-color="#5cce4f"/><stop offset="0.60811" stop-color="#6dd253"/><stop offset="0.60934" stop-color="#77d555"/><stop offset="0.61057" stop-color="#7ad556"/><stop offset="0.61179" stop-color="#75d455"/><stop offset="0.61302" stop-color="#63d050"/><stop offset="0.61425" stop-color="#53cc4d"/><stop offset="0.61548" stop-color="#4ccb4b"/><stop offset="0.61671" stop-color="#4bca4b"/><stop offset="0.64373" stop-color="#4bca4b"/><stop offset="0.64496" stop-color="#4dcb4b"/><stop offset="0.64619" stop-color="#62d050"/><stop offset="0.64742" stop-color="#a2de5f"/><stop offset="0.64865" stop-color="#f0f071"/><stop offset="0.64988" stop-color="#dab45b"/><stop offset="0.65111" stop-color="#cc8e4d"/><stop offset="0.65233" stop-color="#c57b46"/><stop offset="0.65356" stop-color="#c27343"/><stop offset="0.65479" stop-color="#c27443"/><stop offset="0.65602" stop-color="#c88248"/><stop offset="0.65725" stop-color="#d4a354"/><stop offset="0.65848" stop-color="#e1c762"/><stop offset="0.65971" stop-color="#ece46c"/><stop offset="0.66093" stop-color="#ddec6c"/><stop offset="0.66216" stop-color="#b1e262"/><stop offset="0.66339" stop-color="#83d758"/><stop offset="0.66462" stop-color="#63d050"/><stop offset="0.66585" stop-color="#56cd4d"/><stop offset="0.66708" stop-color="#52cc4d"/><stop offset="0.66830" stop-color="#51cc4c"/><stop offset="0.67199" stop-color="#55cd4d"/><stop offset="0.67322" stop-color="#55cd4d"/><stop offset="0.67445" stop-color="#53cc4d"/><stop offset="0.67690" stop-color="#4dcb4b"/><stop offset="0.67813" stop-color="#4bca4b"/><stop offset="0.71130" stop-color="#4bca4b"/><stop offset="0.71253" stop-color="#50cb4c"/><stop offset="0.71376" stop-color="#5fcf50"/><stop offset="0.71499" stop-color="#75d455"/><stop offset="0.71622" stop-color="#7fd657"/><stop offset="0.71744" stop-color="#7ad556"/><stop offset="0.71867" stop-color="#68d152"/><stop offset="0.71990" stop-color="#53cc4d"/><stop offset="0.72113" stop-color="#4ccb4b"/><stop offset="0.81941" stop-color="#4bca4b"/><stop offset="0.82187" stop-color="#4dcb4b"/><stop offset="0.83047" stop-color="#4bca4b"/><stop offset="0.83170" stop-color="#4ccb4b"/><stop offset="0.83415" stop-color="#51cc4c"/><stop offset="0.83538" stop-color="#56cd4d"/><stop offset="0.83661" stop-color="#60cf50"/><stop offset="0.83784" stop-color="#6dd253"/><stop offset="0.83907" stop-color="#76d455"/><stop offset="0.84029" stop-color="#77d455"/><stop offset="0.84152" stop-color="#6ed253"/><stop offset="0.84275" stop-color="#60cf50"/><stop offset="0.84398" stop-color="#54cd4d"/><stop offset="0.84521" stop-color="#4ecb4c"/><stop offset="0.84644" stop-color="#4bca4b"/><stop offset="0.90786" stop-color="#4bca4b"/><stop offset="0.90909" stop-color="#4ccb4b"/><stop offset="0.91032" stop-color="#51cc4c"/><stop offset="0.91155" stop-color="#5ace4e"/><stop offset="0.91646" stop-color="#8bd95a"/><stop offset="0.91769" stop-color="#94db5c"/><stop offset="0.91892" stop-color="#92db5b"/><stop offset="0.92015" stop-color="#8ad959"/><stop offset="0.92138" stop-color="#7fd657"/><stop offset="0.92383" stop-color="#63d050"/><stop offset="0.92506" stop-color="#58cd4e"/><stop offset="0.92629" stop-color="#51cc4c"/><stop offset="0.92752" stop-color="#4dcb4b"/><stop offset="0.92875" stop-color="#4bca4b"/><stop offset="0.94595" stop-color="#4bca4b"/><stop offset="0.94717" stop-color="#4ccb4b"/><stop offset="0.94840" stop-color="#50cc4c"/><stop offset="0.94963" stop-color="#56cd4d"/><stop offset="0.95086" stop-color="#5ace4e"/><stop offset="0.95209" stop-color="#5cce4f"/><stop offset="0.95332" stop-color="#5dcf4f"/><stop offset="0.95455" stop-color="#5bce4f"/><stop offset="0.95700" stop-color="#4ecb4b"/><stop offset="0.95823" stop-color="#4bca4b"/><stop offset="0.98894" stop-color="#4bca4b"/><stop offset="0.99017" stop-color="#4dcb4b"/><stop offset="0.99263" stop-color="#58cd4e"/><stop offset="0.99386" stop-color="#5ace4e"/><stop offset="0.99631" stop-color="#5cce4f"/><stop offset="1.00000" stop-color="#5ace4e"/></linearGradient>
</defs>
<rect width="1024" height="768" fill="#fff"/>
<g shape-rendering="crispEdges">
<g clip-path="url(#area)"><rect x="83" y="0" width="814" height="768" fill="url(#gl)"/></g>
<g stroke="#000" stroke-width="1" stroke-dasharray="4 2" fill="none"><line x1="79" y1="33.5" x2="1024" y2="33.5"/><line x1="79" y1="144.5" x2="1024" y2="144.5"/><line x1="79" y1="254.5" x2="1024" y2="254.5"/><line x1="79" y1="365.5" x2="1024" y2="365.5"/><line x1="79" y1="475.5" x2="1024" y2="475.5"/><line x1="79" y1="586.5" x2="1024" y2="586.5"/><line x1="79" y1="696.5" x2="1024" y2="696.5"/><line x1="83.5" y1="28" x2="83.5" y2="701"/><line x1="266.5" y1="28" x2="266.5" y2="701"/><line x1="448.5" y1="28" x2="448.5" y2="701"/><line x1="631.5" y1="28" x2="631.5" y2="701"/><line x1="813.5" y1="28" x2="813.5" y2="701"/><line x1="996.5" y1="28" x2="996.5" y2="701"/></g>
<g clip-path="url(#area)"><rect x="83" y="0" width="814" height="768" fill="url(#gd)" mask="url(#ckm)"/></g>
</g>
<path d="M83 610h1v1h-1zM84 610h1v1h-1zM85 610h1v1h-1zM86 610h1v1h-1zM87 611h1v1h-1zM88 611h1v1h-1zM89 611h1v1h-1zM90 610h1v1h-1zM91 610h1v1h-1zM92 610h1v1h-1zM93 610h1v1h-1zM94 610h1v1h-1zM95 610h1v1h-1zM96 610h1v1h-1zM97 610h1v1h-1zM98 609h1v1h-1zM99 609h1v1h-1zM100 608h1v1h-1zM101 608h1v1h-1zM102 607h1v1h-1zM103 607h1v1h-1zM104 606h1v1h-1zM105 606h1v1h-1zM106 605h1v1h-1zM107 605h1v1h-1zM108 605h1v1h-1zM109 604h1v1h-1zM110 604h1v1h-1zM111 604h1v1h-1zM112 604h1v1h-1zM113 603h1v1h-1zM114 602h1v1h-1zM115 601h1v1h-1zM116 600h1v1h-1zM117 600h1v1h-1zM118 599h1v1h-1zM119 598h1v1h-1zM120 597h1v1h-1zM121 597h1v1h-1zM122 596h1v1h-1zM123 596h1v1h-1zM124 596h1v1h-1zM125 596h1v1h-1zM126 596h1v1h-1zM127 595h1v1h-1zM128 595h1v1h-1zM129 594h1v1h-1zM130 593h1v1h-1zM131 592h1v1h-1zM132 591h1v1h-1zM133 590h1v1h-1zM134 590h1v1h-1zM135 589h1v1h-1zM136 588h1v1h-1zM137 587h1v1h-1zM138 587h1v1h-1zM139 585h1v2h-1zM140 583h1v2h-1zM141 582h1v1h-1zM142 580h1v2h-1zM143 578h1v2h-1zM144 575h1v3h-1zM145 571h1v4h-1zM146 569h1v2h-1zM147 567h1v2h-1zM148 566h1v1h-1zM149 565h1v1h-1zM150 565h1v1h-1zM151 565h1v1h-1zM152 566h1v1h-1zM153 567h1v1h-1zM154 568h1v1h-1zM155 569h1v2h-1zM156 571h1v1h-1zM157 571h1v1h-1zM158 572h1v1h-1zM159 572h1v1h-1zM160 572h1v1h-1zM161 572h1v1h-1zM162 572h1v1h-1zM163 572h1v1h-1zM164 571h1v1h-1zM165 571h1v1h-1zM166 570h1v1h-1zM167 570h1v1h-1zM168 569h1v1h-1zM169 568h1v1h-1zM170 566h1v2h-1zM171 565h1v1h-1zM172 564h1v1h-1zM173 563h1v1h-1zM174 562h1v1h-1zM175 560h1v2h-1zM176 559h1v1h-1zM177 558h1v1h-1zM178 556h1v2h-1zM179 555h1v1h-1zM180 555h1v1h-1zM181 554h1v1h-1zM182 554h1v1h-1zM183 553h1v1h-1zM184 552h1v1h-1zM185 552h1v1h-1zM186 551h1v1h-1zM187 549h1v2h-1zM188 548h1v1h-1zM189 547h1v1h-1zM190 545h1v2h-1zM191 542h1v3h-1zM192 538h1v4h-1zM193 536h1v2h-1zM194 532h1v4h-1zM195 528h1v4h-1zM196 526h1v2h-1zM197 524h1v2h-1zM198 522h1v2h-1zM199 521h1v1h-1zM200 520h1v1h-1zM201 519h1v1h-1zM202 519h1v1h-1zM203 519h1v1h-1zM204 519h1v1h-1zM205 518h1v2h-1zM206 516h1v2h-1zM207 514h1v2h-1zM208 509h1v5h-1zM209 504h1v5h-1zM210 499h1v5h-1zM211 494h1v5h-1zM212 488h1v6h-1zM213 483h1v5h-1zM214 481h1v2h-1zM215 478h1v3h-1zM216 472h1v6h-1zM217 469h1v3h-1zM218 467h1v2h-1zM219 465h1v2h-1zM220 463h1v2h-1zM221 461h1v2h-1zM222 459h1v2h-1zM223 456h1v3h-1zM224 454h1v2h-1zM225 452h1v2h-1zM226 451h1v1h-1zM227 449h1v2h-1zM228 448h1v1h-1zM229 446h1v2h-1zM230 444h1v2h-1zM231 443h1v1h-1zM232 443h1v1h-1zM233 442h1v1h-1zM234 442h1v1h-1zM235 442h1v1h-1zM236 442h1v1h-1zM237 443h1v1h-1zM238 443h1v1h-1zM239 442h1v1h-1zM240 442h1v1h-1zM241 441h1v1h-1zM242 441h1v1h-1zM243 441h1v1h-1zM244 441h1v2h-1zM245 443h1v2h-1zM246 445h1v2h-1zM247 447h1v3h-1zM248 450h1v4h-1zM249 454h1v2h-1zM250 456h1v3h-1zM251 459h1v5h-1zM252 464h1v5h-1zM253 469h1v5h-1zM254 474h1v5h-1zM255 479h1v2h-1zM256 480h1v1h-1zM257 481h1v1h-1zM258 481h1v1h-1zM259 480h1v1h-1zM260 474h1v6h-1zM261 472h1v2h-1zM262 468h1v4h-1zM263 464h1v4h-1zM264 460h1v4h-1zM265 457h1v3h-1zM266 453h1v4h-1zM267 447h1v6h-1zM268 443h1v4h-1zM269 441h1v2h-1zM270 438h1v3h-1zM271 436h1v2h-1zM272 433h1v3h-1zM273 430h1v3h-1zM274 427h1v3h-1zM275 425h1v2h-1zM276 420h1v5h-1zM277 413h1v7h-1zM278 407h1v6h-1zM279 397h1v10h-1zM280 387h1v10h-1zM281 381h1v6h-1zM282 372h1v9h-1zM283 361h1v11h-1zM284 349h1v12h-1zM285 337h1v12h-1zM286 325h1v12h-1zM287 312h1v13h-1zM288 301h1v11h-1zM289 293h1v8h-1zM290 280h1v13h-1zM291 266h1v14h-1zM292 255h1v11h-1zM293 243h1v12h-1zM294 232h1v11h-1zM295 225h1v7h-1zM296 220h1v5h-1zM297 215h1v5h-1zM298 212h1v3h-1zM299 210h1v2h-1zM300 209h1v1h-1zM301 209h1v1h-1zM302 208h1v1h-1zM303 208h1v1h-1zM304 205h1v3h-1zM305 202h1v3h-1zM306 197h1v5h-1zM307 192h1v5h-1zM308 188h1v4h-1zM309 180h1v8h-1zM310 174h1v6h-1zM311 170h1v4h-1zM312 165h1v5h-1zM313 160h1v5h-1zM314 159h1v1h-1zM315 158h1v2h-1zM316 160h1v5h-1zM317 165h1v7h-1zM318 172h1v8h-1zM319 180h1v8h-1zM320 188h1v8h-1zM321 196h1v8h-1zM322 204h1v8h-1zM323 212h1v7h-1zM324 219h1v6h-1zM325 225h1v7h-1zM326 232h1v7h-1zM327 239h1v5h-1zM328 244h1v6h-1zM329 250h1v7h-1zM330 257h1v7h-1zM331 264h1v6h-1zM332 270h1v2h-1zM333 272h1v2h-1zM334 274h1v1h-1zM335 274h1v1h-1zM336 271h1v3h-1zM337 269h1v2h-1zM338 265h1v4h-1zM339 263h1v2h-1zM340 262h1v1h-1zM341 261h1v1h-1zM342 261h1v1h-1zM343 262h1v1h-1zM344 263h1v3h-1zM345 266h1v2h-1zM346 268h1v2h-1zM347 270h1v1h-1zM348 270h1v1h-1zM349 270h1v1h-1zM350 269h1v1h-1zM351 267h1v2h-1zM352 263h1v4h-1zM353 259h1v4h-1zM354 257h1v2h-1zM355 252h1v5h-1zM356 248h1v4h-1zM357 245h1v3h-1zM358 239h1v6h-1zM359 233h1v6h-1zM360 229h1v4h-1zM361 225h1v4h-1zM362 219h1v6h-1zM363 212h1v7h-1zM364 206h1v6h-1zM365 201h1v5h-1zM366 193h1v8h-1zM367 182h1v11h-1zM368 175h1v7h-1zM369 171h1v4h-1zM370 163h1v8h-1zM371 155h1v8h-1zM372 150h1v5h-1zM373 148h1v2h-1zM374 148h1v1h-1zM375 147h1v1h-1zM376 147h1v1h-1zM377 148h1v4h-1zM378 152h1v6h-1zM379 158h1v6h-1zM380 164h1v5h-1zM381 169h1v7h-1zM382 176h1v10h-1zM383 186h1v7h-1zM384 193h1v4h-1zM385 197h1v7h-1zM386 204h1v6h-1zM387 210h1v6h-1zM388 216h1v4h-1zM389 220h1v4h-1zM390 224h1v3h-1zM391 227h1v4h-1zM392 231h1v4h-1zM393 235h1v3h-1zM394 238h1v4h-1zM395 242h1v2h-1zM396 244h1v2h-1zM397 246h1v1h-1zM398 247h1v1h-1zM399 248h1v2h-1zM400 250h1v1h-1zM401 251h1v1h-1zM402 251h1v1h-1zM403 249h1v2h-1zM404 247h1v2h-1zM405 245h1v2h-1zM406 243h1v3h-1zM407 239h1v4h-1zM408 235h1v4h-1zM409 231h1v4h-1zM410 226h1v5h-1zM411 221h1v5h-1zM412 217h1v4h-1zM413 213h1v4h-1zM414 209h1v4h-1zM415 206h1v3h-1zM416 205h1v1h-1zM417 205h1v1h-1zM418 206h1v2h-1zM419 208h1v2h-1zM420 210h1v3h-1zM421 213h1v2h-1zM422 215h1v2h-1zM423 217h1v1h-1zM424 216h1v1h-1zM425 214h1v2h-1zM426 212h1v2h-1zM427 210h1v2h-1zM428 208h1v2h-1zM429 202h1v6h-1zM430 192h1v10h-1zM431 184h1v8h-1zM432 180h1v4h-1zM433 176h1v4h-1zM434 172h1v4h-1zM435 168h1v4h-1zM436 163h1v5h-1zM437 157h1v6h-1zM438 151h1v6h-1zM439 145h1v6h-1zM440 138h1v7h-1zM441 130h1v8h-1zM442 123h1v7h-1zM443 117h1v6h-1zM444 112h1v5h-1zM445 108h1v4h-1zM446 105h1v3h-1zM447 104h1v1h-1zM448 104h1v2h-1zM449 106h1v7h-1zM450 113h1v5h-1zM451 118h1v5h-1zM452 123h1v11h-1zM453 134h1v8h-1zM454 142h1v7h-1zM455 149h1v6h-1zM456 155h1v6h-1zM457 161h1v6h-1zM458 167h1v8h-1zM459 175h1v7h-1zM460 182h1v4h-1zM461 186h1v8h-1zM462 194h1v8h-1zM463 202h1v4h-1zM464 206h1v4h-1zM465 210h1v3h-1zM466 212h1v1h-1zM467 212h1v2h-1zM468 210h1v2h-1zM469 205h1v5h-1zM470 197h1v8h-1zM471 186h1v11h-1zM472 175h1v11h-1zM473 167h1v8h-1zM474 163h1v4h-1zM475 157h1v6h-1zM476 153h1v4h-1zM477 151h1v2h-1zM478 149h1v2h-1zM479 145h1v4h-1zM480 142h1v3h-1zM481 140h1v2h-1zM482 137h1v3h-1zM483 135h1v2h-1zM484 134h1v1h-1zM485 134h1v1h-1zM486 133h1v1h-1zM487 133h1v1h-1zM488 134h1v1h-1zM489 135h1v2h-1zM490 137h1v2h-1zM491 139h1v3h-1zM492 142h1v3h-1zM493 145h1v4h-1zM494 149h1v3h-1zM495 152h1v3h-1zM496 155h1v3h-1zM497 158h1v3h-1zM498 161h1v3h-1zM499 164h1v3h-1zM500 167h1v4h-1zM501 171h1v2h-1zM502 173h1v1h-1zM503 174h1v1h-1zM504 174h1v1h-1zM505 175h1v1h-1zM506 175h1v1h-1zM507 173h1v2h-1zM508 170h1v3h-1zM509 168h1v2h-1zM510 165h1v3h-1zM511 161h1v4h-1zM512 158h1v3h-1zM513 155h1v3h-1zM514 153h1v2h-1zM515 151h1v2h-1zM516 150h1v1h-1zM517 150h1v1h-1zM518 149h1v1h-1zM519 149h1v1h-1zM520 150h1v1h-1zM521 149h1v1h-1zM522 147h1v2h-1zM523 145h1v2h-1zM524 141h1v4h-1zM525 137h1v4h-1zM526 130h1v7h-1zM527 123h1v7h-1zM528 118h1v5h-1zM529 111h1v7h-1zM530 104h1v7h-1zM531 100h1v4h-1zM532 99h1v1h-1zM533 98h1v1h-1zM534 97h1v1h-1zM535 98h1v1h-1zM536 99h1v4h-1zM537 103h1v5h-1zM538 108h1v4h-1zM539 112h1v4h-1zM540 116h1v4h-1zM541 120h1v8h-1zM542 128h1v11h-1zM543 139h1v8h-1zM544 147h1v6h-1zM545 153h1v8h-1zM546 161h1v8h-1zM547 169h1v4h-1zM548 173h1v4h-1zM549 177h1v2h-1zM550 179h1v1h-1zM551 179h1v2h-1zM552 177h1v2h-1zM553 175h1v2h-1zM554 173h1v2h-1zM555 169h1v4h-1zM556 163h1v6h-1zM557 159h1v4h-1zM558 154h1v5h-1zM559 148h1v6h-1zM560 143h1v5h-1zM561 139h1v4h-1zM562 133h1v6h-1zM563 130h1v3h-1zM564 129h1v1h-1zM565 128h1v1h-1zM566 127h1v1h-1zM567 128h1v2h-1zM568 130h1v4h-1zM569 134h1v6h-1zM570 140h1v4h-1zM571 144h1v7h-1zM572 151h1v6h-1zM573 157h1v4h-1zM574 161h1v3h-1zM575 164h1v2h-1zM576 166h1v1h-1zM577 166h1v1h-1zM578 167h1v1h-1zM579 165h1v2h-1zM580 164h1v1h-1zM581 164h1v1h-1zM582 163h1v1h-1zM583 162h1v1h-1zM584 162h1v1h-1zM585 162h1v1h-1zM586 162h1v2h-1zM587 164h1v3h-1zM588 167h1v4h-1zM589 171h1v5h-1zM590 176h1v6h-1zM591 182h1v9h-1zM592 191h1v10h-1zM593 201h1v11h-1zM594 212h1v6h-1zM595 218h1v3h-1zM596 221h1v3h-1zM597 224h1v2h-1zM598 226h1v1h-1zM599 227h1v2h-1zM600 229h1v2h-1zM601 231h1v2h-1zM602 233h1v2h-1zM603 235h1v3h-1zM604 238h1v4h-1zM605 242h1v5h-1zM606 247h1v5h-1zM607 252h1v2h-1zM608 254h1v1h-1zM609 254h1v1h-1zM610 253h1v2h-1zM611 249h1v4h-1zM612 242h1v7h-1zM613 229h1v13h-1zM614 215h1v14h-1zM615 205h1v10h-1zM616 194h1v11h-1zM617 186h1v8h-1zM618 180h1v6h-1zM619 173h1v7h-1zM620 167h1v6h-1zM621 163h1v4h-1zM622 160h1v3h-1zM623 158h1v2h-1zM624 158h1v1h-1zM625 158h1v1h-1zM626 158h1v1h-1zM627 157h1v1h-1zM628 157h1v1h-1zM629 156h1v1h-1zM630 155h1v1h-1zM631 154h1v1h-1zM632 153h1v1h-1zM633 153h1v1h-1zM634 152h1v1h-1zM635 152h1v1h-1zM636 153h1v2h-1zM637 155h1v1h-1zM638 156h1v1h-1zM639 157h1v2h-1zM640 159h1v1h-1zM641 160h1v1h-1zM642 161h1v2h-1zM643 163h1v2h-1zM644 165h1v2h-1zM645 167h1v2h-1zM646 169h1v1h-1zM647 169h1v1h-1zM648 169h1v1h-1zM649 169h1v1h-1zM650 169h1v1h-1zM651 169h1v1h-1zM652 169h1v1h-1zM653 170h1v2h-1zM654 172h1v2h-1zM655 174h1v5h-1zM656 179h1v6h-1zM657 185h1v5h-1zM658 190h1v5h-1zM659 195h1v4h-1zM660 199h1v4h-1zM661 203h1v3h-1zM662 206h1v2h-1zM663 206h1v1h-1zM664 205h1v1h-1zM665 204h1v1h-1zM666 202h1v2h-1zM667 200h1v2h-1zM668 199h1v1h-1zM669 199h1v1h-1zM670 200h1v2h-1zM671 202h1v5h-1zM672 207h1v7h-1zM673 214h1v7h-1zM674 221h1v7h-1zM675 228h1v6h-1zM676 234h1v5h-1zM677 239h1v6h-1zM678 245h1v8h-1zM679 253h1v9h-1zM680 262h1v6h-1zM681 268h1v9h-1zM682 277h1v8h-1zM683 285h1v6h-1zM684 291h1v8h-1zM685 299h1v9h-1zM686 308h1v5h-1zM687 313h1v6h-1zM688 319h1v5h-1zM689 324h1v6h-1zM690 330h1v5h-1zM691 335h1v6h-1zM692 341h1v4h-1zM693 345h1v4h-1zM694 349h1v4h-1zM695 353h1v4h-1zM696 357h1v6h-1zM697 363h1v4h-1zM698 367h1v4h-1zM699 371h1v3h-1zM700 374h1v2h-1zM701 376h1v2h-1zM702 378h1v2h-1zM703 380h1v1h-1zM704 381h1v1h-1zM705 382h1v2h-1zM706 384h1v1h-1zM707 385h1v2h-1zM708 387h1v1h-1zM709 388h1v3h-1zM710 391h1v4h-1zM711 395h1v3h-1zM712 398h1v4h-1zM713 402h1v5h-1zM714 407h1v4h-1zM715 411h1v4h-1zM716 415h1v2h-1zM717 417h1v3h-1zM718 420h1v2h-1zM719 422h1v2h-1zM720 424h1v1h-1zM721 425h1v2h-1zM722 427h1v1h-1zM723 427h1v1h-1zM724 427h1v1h-1zM725 427h1v1h-1zM726 427h1v1h-1zM727 428h1v1h-1zM728 428h1v2h-1zM729 430h1v2h-1zM730 432h1v2h-1zM731 434h1v3h-1zM732 437h1v3h-1zM733 440h1v4h-1zM734 444h1v4h-1zM735 448h1v4h-1zM736 452h1v3h-1zM737 455h1v2h-1zM738 457h1v3h-1zM739 460h1v2h-1zM740 462h1v2h-1zM741 464h1v2h-1zM742 466h1v2h-1zM743 468h1v2h-1zM744 470h1v2h-1zM745 472h1v2h-1zM746 474h1v1h-1zM747 475h1v1h-1zM748 475h1v1h-1zM749 476h1v1h-1zM750 476h1v1h-1zM751 475h1v1h-1zM752 475h1v1h-1zM753 475h1v1h-1zM754 475h1v1h-1zM755 475h1v1h-1zM756 475h1v1h-1zM757 475h1v1h-1zM758 475h1v1h-1zM759 476h1v1h-1zM760 476h1v1h-1zM761 476h1v1h-1zM762 476h1v1h-1zM763 475h1v1h-1zM764 474h1v1h-1zM765 473h1v1h-1zM766 471h1v2h-1zM767 469h1v2h-1zM768 468h1v1h-1zM769 467h1v1h-1zM770 467h1v1h-1zM771 466h1v1h-1zM772 466h1v1h-1zM773 467h1v1h-1zM774 468h1v2h-1zM775 470h1v3h-1zM776 473h1v4h-1zM777 477h1v3h-1zM778 480h1v2h-1zM779 482h1v4h-1zM780 486h1v4h-1zM781 490h1v3h-1zM782 493h1v2h-1zM783 495h1v1h-1zM784 496h1v1h-1zM785 497h1v1h-1zM786 498h1v1h-1zM787 499h1v1h-1zM788 500h1v1h-1zM789 501h1v2h-1zM790 503h1v2h-1zM791 505h1v3h-1zM792 508h1v5h-1zM793 513h1v4h-1zM794 517h1v3h-1zM795 520h1v3h-1zM796 523h1v4h-1zM797 527h1v4h-1zM798 531h1v3h-1zM799 534h1v3h-1zM800 537h1v2h-1zM801 539h1v2h-1zM802 541h1v2h-1zM803 543h1v1h-1zM804 544h1v1h-1zM805 545h1v1h-1zM806 546h1v1h-1zM807 546h1v1h-1zM808 547h1v1h-1zM809 547h1v1h-1zM810 548h1v1h-1zM811 549h1v1h-1zM812 549h1v1h-1zM813 550h1v1h-1zM814 551h1v1h-1zM815 552h1v2h-1zM816 554h1v1h-1zM817 555h1v1h-1zM818 556h1v1h-1zM819 556h1v1h-1zM820 557h1v1h-1zM821 558h1v1h-1zM822 558h1v1h-1zM823 559h1v1h-1zM824 559h1v1h-1zM825 558h1v1h-1zM826 557h1v1h-1zM827 556h1v1h-1zM828 555h1v1h-1zM829 553h1v2h-1zM830 551h1v2h-1zM831 548h1v3h-1zM832 546h1v2h-1zM833 544h1v2h-1zM834 543h1v1h-1zM835 542h1v1h-1zM836 541h1v1h-1zM837 541h1v1h-1zM838 540h1v1h-1zM839 540h1v1h-1zM840 541h1v1h-1zM841 541h1v1h-1zM842 542h1v2h-1zM843 544h1v2h-1zM844 546h1v1h-1zM845 547h1v1h-1zM846 548h1v1h-1zM847 549h1v1h-1zM848 550h1v1h-1zM849 551h1v2h-1zM850 553h1v2h-1zM851 555h1v1h-1zM852 556h1v2h-1zM853 558h1v2h-1zM854 560h1v1h-1zM855 560h1v1h-1zM856 561h1v1h-1zM857 560h1v1h-1zM858 559h1v1h-1zM859 558h1v1h-1zM860 558h1v1h-1zM861 557h1v1h-1zM862 557h1v1h-1zM863 557h1v1h-1zM864 558h1v1h-1zM865 558h1v1h-1zM866 559h1v2h-1zM867 561h1v1h-1zM868 562h1v2h-1zM869 564h1v2h-1zM870 566h1v3h-1zM871 569h1v3h-1zM872 572h1v2h-1zM873 574h1v3h-1zM874 577h1v3h-1zM875 580h1v4h-1zM876 584h1v4h-1zM877 588h1v3h-1zM878 591h1v4h-1zM879 595h1v4h-1zM880 599h1v3h-1zM881 602h1v4h-1zM882 606h1v3h-1zM883 609h1v2h-1zM884 611h1v1h-1zM885 612h1v1h-1zM886 613h1v1h-1zM887 613h1v1h-1zM888 614h1v1h-1zM889 614h1v1h-1zM890 613h1v1h-1zM891 613h1v1h-1zM892 612h1v1h-1zM893 611h1v1h-1zM894 611h1v1h-1zM895 610h1v1h-1zM896 610h1v1h-1zM897 609h1v1h-1z" fill="#96200c" shape-rendering="crispEdges"/>
<g stroke="#000" stroke-width="1" fill="none" shape-rendering="crispEdges"><line x1="77.5" y1="33" x2="77.5" y2="697"/><line x1="69" y1="33.5" x2="78" y2="33.5"/><line x1="69" y1="144.5" x2="78" y2="144.5"/><line x1="69" y1="254.5" x2="78" y2="254.5"/><line x1="69" y1="365.5" x2="78" y2="365.5"/><line x1="69" y1="475.5" x2="78" y2="475.5"/><line x1="69" y1="586.5" x2="78" y2="586.5"/><line x1="69" y1="696.5" x2="78" y2="696.5"/><line x1="73" y1="61.5" x2="78" y2="61.5"/><line x1="71" y1="88.5" x2="78" y2="88.5"/><line x1="73" y1="116.5" x2="78" y2="116.5"/><line x1="73" y1="171.5" x2="78" y2="171.5"/><line x1="71" y1="199.5" x2="78" y2="199.5"/><line x1="73" y1="226.5" x2="78" y2="226.5"/><line x1="73" y1="282.5" x2="78" y2="282.5"/><line x1="71" y1="309.5" x2="78" y2="309.5"/><line x1="73" y1="337.5" x2="78" y2="337.5"/><line x1="73" y1="392.5" x2="78" y2="392.5"/><line x1="71" y1="420.5" x2="78" y2="420.5"/><line x1="73" y1="447.5" x2="78" y2="447.5"/><line x1="73" y1="503.5" x2="78" y2="503.5"/><line x1="71" y1="530.5" x2="78" y2="530.5"/><line x1="73" y1="558.5" x2="78" y2="558.5"/><line x1="73" y1="613.5" x2="78" y2="613.5"/><line x1="71" y1="641.5" x2="78" y2="641.5"/><line x1="73" y1="668.5" x2="78" y2="668.5"/><line x1="83" y1="703.5" x2="997" y2="703.5"/><line x1="83.5" y1="703" x2="83.5" y2="712"/><line x1="266.5" y1="703" x2="266.5" y2="712"/><line x1="448.5" y1="703" x2="448.5" y2="712"/><line x1="631.5" y1="703" x2="631.5" y2="712"/><line x1="813.5" y1="703" x2="813.5" y2="712"/><line x1="996.5" y1="703" x2="996.5" y2="712"/><line x1="120.5" y1="703" x2="120.5" y2="708"/><line x1="156.5" y1="703" x2="156.5" y2="708"/><line x1="193.5" y1="703" x2="193.5" y2="708"/><line x1="229.5" y1="703" x2="229.5" y2="708"/><line x1="302.5" y1="703" x2="302.5" y2="708"/><line x1="339.5" y1="703" x2="339.5" y2="708"/><line x1="375.5" y1="703" x2="375.5" y2="708"/><line x1="412.5" y1="703" x2="412.5" y2="708"/><line x1="485.5" y1="703" x2="485.5" y2="708"/><line x1="521.5" y1="703" x2="521.5" y2="708"/><line x1="558.5" y1="703" x2="558.5" y2="708"/><line x1="594.5" y1="703" x2="594.5" y2="708"/><line x1="667.5" y1="703" x2="667.5" y2="708"/><line x1="704.5" y1="703" x2="704.5" y2="708"/><line x1="740.5" y1="703" x2="740.5" y2="708"/><line x1="777.5" y1="703" x2="777.5" y2="708"/><line x1="850.5" y1="703" x2="850.5" y2="708"/><line x1="886.5" y1="703" x2="886.5" y2="708"/><line x1="923.5" y1="703" x2="923.5" y2="708"/><line x1="959.5" y1="703" x2="959.5" y2="708"/></g>
<line x1="517" y1="757.5" x2="525" y2="757.5" stroke="#d0143c" stroke-width="1" shape-rendering="crispEdges"/>
<text x="21.7" y="37.8" font-size="12.5" textLength="42.1" lengthAdjust="spacingAndGlyphs">520,0m</text>
<text x="21.7" y="148.8" font-size="12.5" textLength="42.1" lengthAdjust="spacingAndGlyphs">500,0m</text>
<text x="21.7" y="258.8" font-size="12.5" textLength="42.1" lengthAdjust="spacingAndGlyphs">480,0m</text>
<text x="21.7" y="369.8" font-size="12.5" textLength="42.1" lengthAdjust="spacingAndGlyphs">460,0m</text>
<text x="21.7" y="479.8" font-size="12.5" textLength="42.1" lengthAdjust="spacingAndGlyphs">440,0m</text>
<text x="21.7" y="590.8" font-size="12.5" textLength="42.1" lengthAdjust="spacingAndGlyphs">420,0m</text>
<text x="21.7" y="700.8" font-size="12.5" textLength="42.1" lengthAdjust="spacingAndGlyphs">400,0m</text>
<text x="60.6" y="725.35" font-size="12.5" textLength="45.0" lengthAdjust="spacingAndGlyphs">0,00 km</text>
<text x="243.6" y="725.35" font-size="12.5" textLength="45.0" lengthAdjust="spacingAndGlyphs">5,00 km</text>
<text x="422.4" y="725.35" font-size="12.5" textLength="52.1" lengthAdjust="spacingAndGlyphs">10,00 km</text>
<text x="605.4" y="725.35" font-size="12.5" textLength="52.1" lengthAdjust="spacingAndGlyphs">15,00 km</text>
<text x="787.4" y="725.35" font-size="12.5" textLength="52.1" lengthAdjust="spacingAndGlyphs">20,00 km</text>
<text x="970.4" y="725.35" font-size="12.5" textLength="52.1" lengthAdjust="spacingAndGlyphs">25,00 km</text>
<text class="t" x="551.45" y="18.2" font-size="19" text-anchor="middle" textLength="111.2" lengthAdjust="spacingAndGlyphs">Höhenprofil</text>
<text class="t" x="541.9" y="743.4" font-size="16.75" text-anchor="middle" textLength="184" lengthAdjust="spacingAndGlyphs">Zurückgelegte Strecke</text>
<text class="t" transform="translate(15.6 364.2) rotate(-90)" font-size="16.75" text-anchor="middle" textLength="113.2" lengthAdjust="spacingAndGlyphs">Höhe über NN</text>
<text x="527.7" y="762" font-size="10.8" textLength="53.6" lengthAdjust="spacingAndGlyphs">85 Radweg</text>
</svg>
</body>
</html>
